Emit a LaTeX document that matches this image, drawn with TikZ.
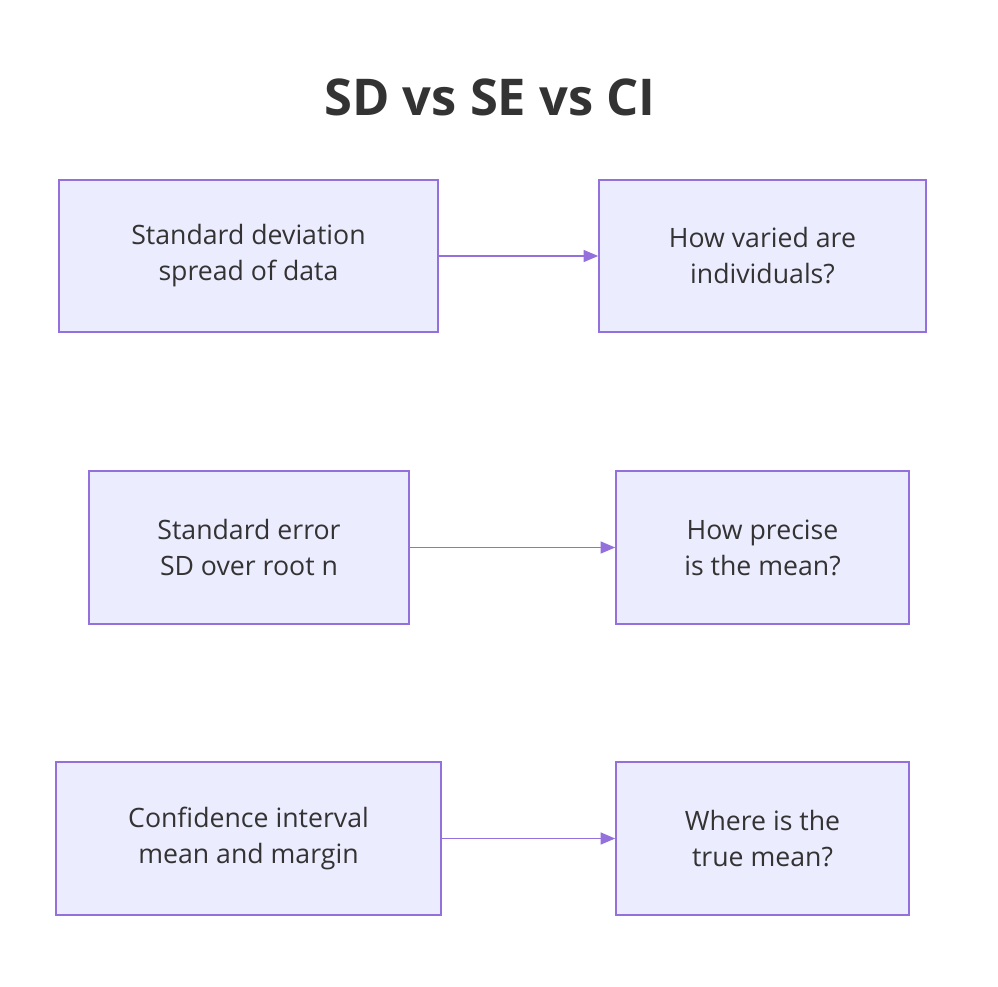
\documentclass[tikz,border=0pt]{standalone}
\usepackage{fontspec}
\setmainfont{Open Sans}
\usetikzlibrary{arrows.meta}
\definecolor{bfill}{HTML}{ECECFF}
\definecolor{bline}{HTML}{9370DB}
\definecolor{txt}{HTML}{333333}
\begin{document}
\begin{tikzpicture}[x=0.75pt,y=-0.75pt,
  box/.style={draw=bline,fill=bfill,line width=1.2pt,text=txt,align=center,inner sep=0pt,
    font=\fontsize{20}{27}\selectfont},
  arr/.style={draw=bline,line width=1.2pt,-{Triangle[length=11pt,width=9pt]}}]
\useasboundingbox[fill=white] (0,0) rectangle (998,986);
\node[text=txt,font=\fontsize{38}{44}\selectfont\bfseries] (t) at (490,97) {SD vs SE vs CI};
\node[box,minimum width=379*0.75pt,minimum height=152*0.75pt] (a) at (248.5,256) {Standard deviation\\spread of data};
\node[box,minimum width=327*0.75pt,minimum height=152*0.75pt] (b) at (762.5,256) {How varied are\\individuals?};
\node[box,minimum width=320*0.75pt,minimum height=153*0.75pt] (c) at (249,547.5) {Standard error\\SD over root n};
\node[box,minimum width=293*0.75pt,minimum height=153*0.75pt] (d) at (762.5,547.5) {How precise\\is the mean?};
\node[box,minimum width=385*0.75pt,minimum height=153*0.75pt] (e) at (248.5,838.5) {Confidence interval\\mean and margin};
\node[box,minimum width=293*0.75pt,minimum height=153*0.75pt] (f) at (762.5,838.5) {Where is the\\true mean?};
\draw[arr] (a) -- (b);
\draw[arr] (c) -- (d);
\draw[arr] (e) -- (f);
\end{tikzpicture}
\end{document}
